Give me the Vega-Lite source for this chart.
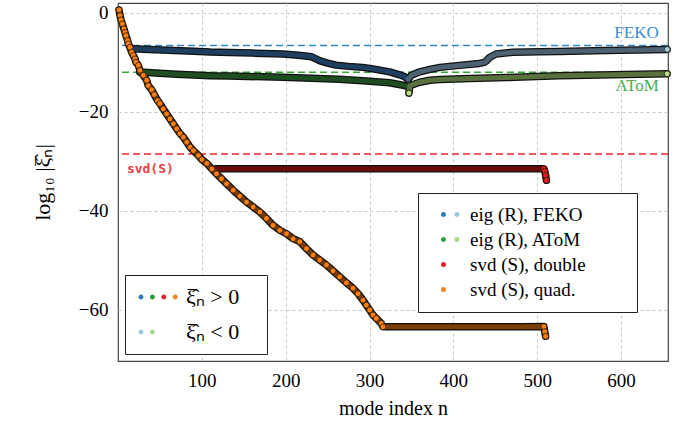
{
  "$schema": "https://vega.github.io/schema/vega-lite/v6.json",
  "width": 550,
  "height": 358,
  "autosize": {"type": "none"},
  "padding": {"left": 118, "top": 3, "right": 25, "bottom": 62},
  "background": "white",
  "config": {
    "view": {"stroke": "#444", "strokeWidth": 1.2},
    "font": "Liberation Serif",
    "axis": {
      "labelFont": "Liberation Serif", "titleFont": "Liberation Serif",
      "labelFontSize": 19, "titleFontSize": 20, "labelColor": "#000", "titleColor": "#000",
      "titleFontWeight": "normal", "gridColor": "#c8c8c8", "gridDash": [3, 3], "gridWidth": 1,
      "domain": false, "ticks": false
    },
    "legend": {"strokeWidth": 1}
  },
  "datasets": {
    "curves": [
      {"n":18,"v":-7.26,"k":"Fp"},{"n":30,"v":-7.35,"k":"Fp"},{"n":60,"v":-7.55,"k":"Fp"},{"n":90,"v":-7.75,"k":"Fp"},{"n":110,"v":-7.9,"k":"Fp"},{"n":133,"v":-7.98,"k":"Fp"},{"n":160,"v":-8.12,"k":"Fp"},{"n":197,"v":-8.32,"k":"Fp"},{"n":215,"v":-8.55,"k":"Fp"},{"n":231,"v":-8.87,"k":"Fp"},{"n":241,"v":-9.68,"k":"Fp"},{"n":250,"v":-10.15,"k":"Fp"},{"n":260,"v":-10.55,"k":"Fp"},{"n":275,"v":-10.8,"k":"Fp"},{"n":292,"v":-11.0,"k":"Fp"},{"n":304,"v":-11.3,"k":"Fp"},{"n":324,"v":-11.9,"k":"Fp"},{"n":336,"v":-12.5,"k":"Fp"},{"n":342,"v":-12.9,"k":"Fp"},{"n":346,"v":-13.5,"k":"Fp"},
      {"n":346,"v":-13.4,"k":"Fn"},{"n":350,"v":-12.6,"k":"Fn"},{"n":360,"v":-11.9,"k":"Fn"},{"n":372,"v":-11.4,"k":"Fn"},{"n":384,"v":-11.0,"k":"Fn"},{"n":407,"v":-10.6,"k":"Fn"},{"n":431,"v":-10.2,"k":"Fn"},{"n":437,"v":-10.0,"k":"Fn"},{"n":440,"v":-9.6,"k":"Fn"},{"n":443,"v":-9.0,"k":"Fn"},{"n":451,"v":-8.3,"k":"Fn"},{"n":471,"v":-7.95,"k":"Fn"},{"n":503,"v":-7.85,"k":"Fn"},{"n":526,"v":-7.78,"k":"Fn"},{"n":582,"v":-7.6,"k":"Fn"},{"n":620,"v":-7.48,"k":"Fn"},{"n":655,"v":-7.37,"k":"Fn"},
      {"n":26,"v":-11.95,"k":"Ap"},{"n":40,"v":-12.1,"k":"Ap"},{"n":70,"v":-12.4,"k":"Ap"},{"n":110,"v":-12.7,"k":"Ap"},{"n":133,"v":-12.75,"k":"Ap"},{"n":197,"v":-13.0,"k":"Ap"},{"n":264,"v":-13.4,"k":"Ap"},{"n":292,"v":-13.7,"k":"Ap"},{"n":324,"v":-14.1,"k":"Ap"},{"n":340,"v":-14.6,"k":"Ap"},{"n":346,"v":-14.9,"k":"Ap"},
      {"n":347,"v":-16.2,"k":"An"},{"n":348,"v":-14.7,"k":"An"},{"n":360,"v":-14.0,"k":"An"},{"n":372,"v":-13.6,"k":"An"},{"n":384,"v":-13.45,"k":"An"},{"n":420,"v":-13.25,"k":"An"},{"n":463,"v":-13.05,"k":"An"},{"n":526,"v":-12.7,"k":"An"},{"n":590,"v":-12.5,"k":"An"},{"n":655,"v":-12.3,"k":"An"},
      {"n":117,"v":-31.45,"k":"D"},{"n":200,"v":-31.45,"k":"D"},{"n":300,"v":-31.45,"k":"D"},{"n":400,"v":-31.45,"k":"D"},{"n":508,"v":-31.45,"k":"D"},{"n":509,"v":-31.95,"k":"D"},{"n":510,"v":-32.8,"k":"D"},{"n":511,"v":-33.8,"k":"D"},
      {"n":1.2,"v":0.6,"k":"Q"},{"n":2.4,"v":-0.54,"k":"Q"},{"n":3.6,"v":-1.41,"k":"Q"},{"n":5.2,"v":-2.22,"k":"Q"},{"n":7.1,"v":-3.23,"k":"Q"},{"n":8.3,"v":-3.91,"k":"Q"},{"n":9.5,"v":-4.58,"k":"Q"},{"n":11.5,"v":-5.58,"k":"Q"},{"n":12.3,"v":-6.25,"k":"Q"},{"n":14.3,"v":-6.94,"k":"Q"},{"n":16.3,"v":-7.94,"k":"Q"},{"n":18.3,"v":-8.61,"k":"Q"},{"n":20.3,"v":-9.27,"k":"Q"},{"n":21.4,"v":-9.96,"k":"Q"},{"n":24.2,"v":-10.6,"k":"Q"},{"n":26.2,"v":-11.6,"k":"Q"},{"n":30.2,"v":-12.6,"k":"Q"},{"n":34.2,"v":-13.6,"k":"Q"},{"n":36.1,"v":-14.7,"k":"Q"},{"n":40.1,"v":-15.5,"k":"Q"},{"n":43.3,"v":-16.5,"k":"Q"},{"n":47.3,"v":-17.7,"k":"Q"},{"n":50,"v":-18.3,"k":"Q"},{"n":54,"v":-19.4,"k":"Q"},{"n":58,"v":-20.4,"k":"Q"},{"n":62,"v":-21.4,"k":"Q"},{"n":66,"v":-22.4,"k":"Q"},{"n":70,"v":-23.4,"k":"Q"},{"n":74,"v":-24.4,"k":"Q"},{"n":78,"v":-25.1,"k":"Q"},{"n":82,"v":-26.1,"k":"Q"},{"n":86,"v":-27.1,"k":"Q"},{"n":90,"v":-27.8,"k":"Q"},{"n":96,"v":-28.8,"k":"Q"},{"n":100,"v":-29.6,"k":"Q"},{"n":106,"v":-30.4,"k":"Q"},{"n":112,"v":-31.5,"k":"Q"},{"n":117.5,"v":-32.5,"k":"Q"},{"n":123.5,"v":-33.5,"k":"Q"},{"n":129.5,"v":-34.5,"k":"Q"},{"n":137.4,"v":-35.8,"k":"Q"},{"n":145.3,"v":-37.0,"k":"Q"},{"n":153.3,"v":-38.2,"k":"Q"},{"n":161.2,"v":-39.2,"k":"Q"},{"n":169.2,"v":-40.2,"k":"Q"},{"n":177.1,"v":-41.5,"k":"Q"},{"n":185,"v":-42.9,"k":"Q"},{"n":193,"v":-43.9,"k":"Q"},{"n":201,"v":-44.6,"k":"Q"},{"n":208.8,"v":-45.6,"k":"Q"},{"n":216.8,"v":-46.2,"k":"Q"},{"n":224.8,"v":-47.6,"k":"Q"},{"n":232.7,"v":-48.9,"k":"Q"},{"n":240.6,"v":-49.9,"k":"Q"},{"n":248.6,"v":-50.9,"k":"Q"},{"n":256.5,"v":-52.1,"k":"Q"},{"n":264.4,"v":-53.3,"k":"Q"},{"n":272.4,"v":-54.5,"k":"Q"},{"n":280.3,"v":-55.6,"k":"Q"},{"n":286.3,"v":-56.7,"k":"Q"},{"n":292.2,"v":-58.0,"k":"Q"},{"n":296.2,"v":-59.0,"k":"Q"},{"n":300.2,"v":-60.0,"k":"Q"},{"n":304.1,"v":-61.0,"k":"Q"},{"n":308.1,"v":-61.7,"k":"Q"},{"n":314,"v":-62.7,"k":"Q"},{"n":316,"v":-63.4,"k":"Q"},{"n":360,"v":-63.4,"k":"Q"},{"n":420,"v":-63.4,"k":"Q"},{"n":480,"v":-63.4,"k":"Q"},{"n":508,"v":-63.35,"k":"Q"},{"n":509,"v":-64.4,"k":"Q"},{"n":510,"v":-65.3,"k":"Q"}
    ],
    "refs": [
      {"k":"FEKO","v":-6.57},{"k":"AToM","v":-12.0},{"k":"SVD","v":-28.5}
    ]
  },
  "layer": [
    {
      "data": {"name": "refs"},
      "mark": {"type": "rule", "strokeDash": [7, 4], "strokeWidth": 1.6},
      "encoding": {
        "y": {"field": "v", "type": "quantitative"},
        "stroke": {"field": "k", "type": "nominal", "legend": null}
      }
    },
    {
      "data": {"name": "curves"},
      "mark": {"type": "line", "stroke": "#111", "strokeWidth": 7.5, "strokeJoin": "round", "strokeCap": "round"},
      "encoding": {
        "x": {"field": "n", "type": "quantitative", "scale": {"domain": [0, 656], "nice": false, "zero": false},
              "axis": {"values": [100, 200, 300, 400, 500, 600], "title": "mode index n", "labelPadding": 10, "titlePadding": 8, "grid": true}},
        "y": {"field": "v", "type": "quantitative", "scale": {"domain": [-70.3, 2], "nice": false, "zero": false},
              "axis": {"values": [0, -20, -40, -60], "title": "log₁₀ |ξ̂ₙ|", "titleFontSize": 22, "format": "d", "labelPadding": 10, "titlePadding": 24, "grid": true}},
        "detail": {"field": "k", "type": "nominal"}
      }
    },
    {
      "data": {"name": "curves"},
      "mark": {"type": "line", "strokeWidth": 5, "strokeJoin": "round", "strokeCap": "round"},
      "encoding": {
        "x": {"field": "n", "type": "quantitative"},
        "y": {"field": "v", "type": "quantitative"},
        "stroke": {"field": "k", "type": "nominal", "legend": null,
          "scale": {"domain": ["Fp","Fn","Ap","An","D","Q","FEKO","AToM","SVD"],
                    "range": ["#1e3f60","#4e6172","#1f4d22","#59703f","#6b0b0b","#7a3d06","#2f86c8","#35a835","#e8262b"]}}
      }
    },
    {
      "data": {"name": "curves"},
      "transform": [{"filter": "(datum.k == 'Q' && datum.n <= 316) || (datum.n >= 508 && datum.n <= 511) || datum.n == 655 || datum.n == 347"}],
      "mark": {"type": "point", "filled": true, "size": 34, "stroke": "#2b1a0a", "strokeWidth": 0.8, "opacity": 1},
      "encoding": {
        "x": {"field": "n", "type": "quantitative"},
        "y": {"field": "v", "type": "quantitative"},
        "fill": {"field": "k", "type": "nominal", "legend": null,
          "scale": {"domain": ["Fp","Fn","Ap","An","D","Q"],
                    "range": ["#1f77b4","#a6cee3","#2ca02c","#b2df8a","#e31a1c","#ff7f0e"]}}
      }
    },
    {
      "data": {"name": "refs"},
      "transform": [{"filter": "datum.k == 'FEKO'"}],
      "mark": {"type": "text", "text": "FEKO", "align": "right", "baseline": "alphabetic", "dy": -7, "font": "Liberation Serif", "fontSize": 17, "color": "#3a8ccc"},
      "encoding": {"x": {"datum": 645, "type": "quantitative"}, "y": {"field": "v", "type": "quantitative"}}
    },
    {
      "data": {"name": "refs"},
      "transform": [{"filter": "datum.k == 'AToM'"}],
      "mark": {"type": "text", "text": "AToM", "align": "right", "baseline": "alphabetic", "dy": 19, "font": "Liberation Serif", "fontSize": 17, "color": "#4cae4c"},
      "encoding": {"x": {"datum": 645, "type": "quantitative"}, "y": {"field": "v", "type": "quantitative"}}
    },
    {
      "data": {"name": "refs"},
      "transform": [{"filter": "datum.k == 'SVD'"}],
      "mark": {"type": "text", "text": "svd(S)", "align": "left", "baseline": "middle", "dy": 15, "font": "DejaVu Sans Mono", "fontSize": 13, "fontWeight": "bold", "color": "#e8403f"},
      "encoding": {"x": {"datum": 10.6, "type": "quantitative"}, "y": {"field": "v", "type": "quantitative"}}
    },
    {
      "data": {"values": [{"s":"FEKO"},{"s":"AToM"},{"s":"double"},{"s":"quad"}]},
      "mark": {"type": "point", "filled": true, "opacity": 0},
      "encoding": {
        "color": {"field": "s", "type": "nominal", "legend": null},
        "size": {"field": "s", "type": "nominal",
          "scale": {"domain": ["FEKO","AToM","double","quad"], "range": [25, 25, 25, 25]},
          "legend": {
            "orient": "none", "legendX": 300, "legendY": 190, "title": null,
            "fillColor": "white", "strokeColor": "#222", "padding": 12, "rowPadding": 5,
            "symbolOffset": 4, "labelOffset": 17, "labelLimit": 400, "symbolOpacity": 1, "symbolStrokeWidth": 0,
            "labelFont": "Liberation Serif", "labelFontSize": 19, "labelColor": "#000", "zindex": 5,
            "labelExpr": "datum.value == 'FEKO' ? 'eig (R), FEKO⠀⠀⠀' : datum.value == 'AToM' ? 'eig (R), AToM' : datum.value == 'double' ? 'svd (S), double' : 'svd (S), quad.'",
            "symbolType": {"expr": "datum.value == 'FEKO' || datum.value == 'AToM' ? 'M-1,0A1,1,0,1,1,1,0A1,1,0,1,1,-1,0ZM4.36,0A1,1,0,1,1,6.36,0A1,1,0,1,1,4.36,0Z' : 'circle'"},
            "symbolFillColor": {"expr": "datum.value == 'FEKO' ? {gradient:'linear',x1:0,y1:0,x2:1,y2:0,stops:[{offset:0,color:'#2a7ab8'},{offset:0.5,color:'#2a7ab8'},{offset:0.5,color:'#9ec6df'},{offset:1,color:'#9ec6df'}]} : datum.value == 'AToM' ? {gradient:'linear',x1:0,y1:0,x2:1,y2:0,stops:[{offset:0,color:'#2f9a3a'},{offset:0.5,color:'#2f9a3a'},{offset:0.5,color:'#a8d68c'},{offset:1,color:'#a8d68c'}]} : datum.value == 'double' ? '#e0262a' : '#f5821f'"}
          }
        }
      }
    },
    {
      "data": {"values": [{"g":"pos"},{"g":"neg"}]},
      "mark": {"type": "point", "filled": true, "size": 0, "strokeWidth": 0},
      "encoding": {
        "color": {"field": "g", "type": "nominal", "legend": null},
        "opacity": {"field": "g", "type": "nominal",
          "scale": {"domain": ["pos","neg"], "range": [1, 1]},
          "legend": {
            "orient": "none", "legendX": 7, "legendY": 272, "title": null,
            "fillColor": "white", "strokeColor": "#222", "padding": 11, "rowPadding": 13,
            "symbolSize": 25, "symbolOffset": -6, "labelOffset": 34, "labelLimit": 400, "symbolStrokeWidth": 0,
            "labelFont": "Liberation Serif", "labelFontSize": 22, "labelColor": "#000", "zindex": 5,
            "labelExpr": "datum.value == 'pos' ? 'ξ̂ₙ > 0⠀' : 'ξ̂ₙ < 0'",
            "symbolType": {"expr": "datum.value == 'pos' ? 'M-1,0A1,1,0,1,1,1,0A1,1,0,1,1,-1,0ZM3.56,0A1,1,0,1,1,5.56,0A1,1,0,1,1,3.56,0ZM8.12,0A1,1,0,1,1,10.12,0A1,1,0,1,1,8.12,0ZM12.68,0A1,1,0,1,1,14.68,0A1,1,0,1,1,12.68,0Z' : 'M-1,0A1,1,0,1,1,1,0A1,1,0,1,1,-1,0ZM3.56,0A1,1,0,1,1,5.56,0A1,1,0,1,1,3.56,0Z'"},
            "symbolFillColor": {"expr": "datum.value == 'pos' ? {gradient:'linear',x1:0,y1:0,x2:1,y2:0,stops:[{offset:0,color:'#2a7ab8'},{offset:0.209,color:'#2a7ab8'},{offset:0.209,color:'#2f9a3a'},{offset:0.5,color:'#2f9a3a'},{offset:0.5,color:'#e0262a'},{offset:0.791,color:'#e0262a'},{offset:0.791,color:'#f5821f'},{offset:1,color:'#f5821f'}]} : {gradient:'linear',x1:0,y1:0,x2:1,y2:0,stops:[{offset:0,color:'#9ec6df'},{offset:0.5,color:'#9ec6df'},{offset:0.5,color:'#a8d68c'},{offset:1,color:'#a8d68c'}]}"}
          }
        }
      }
    }
  ]
}
